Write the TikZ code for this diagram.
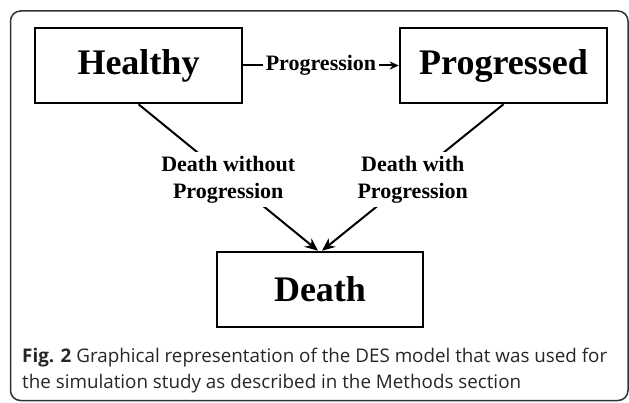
\documentclass[tikz,border=0pt]{standalone}
\usepackage{fontspec}
\setmainfont{Liberation Serif}
\newfontfamily\captionfont{Open Sans}
\usetikzlibrary{arrows.meta}
\tikzstyle{state} = [rectangle, draw=black, line width=2.5pt, minimum height=75pt, minimum width=207pt, text centered, font=\fontsize{36}{40}\selectfont\bfseries]
\tikzstyle{trans} = [fill=white, align=center, inner sep=4pt, font=\fontsize{22}{27}\selectfont\bfseries]
\tikzstyle{link} = [draw=black, line width=2pt]

\begin{document}
\begin{tikzpicture}[x=1pt, y=1pt]

            \useasboundingbox (0,0) rectangle (629,402);

            %% frame
            \draw [black!80, line width=1.5pt, rounded corners=10pt] (10.5,391) rectangle (628,1.5);

            %% states
            \node (healthy) [state] at (138.5,336.5) {Healthy};
            \node (progressed) [state] at (503.5,336.5) {Progressed};
            \node (death) [state, minimum width=206pt] at (320,112.5) {Death};

            %% transitions
            \draw [link, -{Stealth[length=9pt, width=8pt]}] (healthy.east) -- node [trans, inner sep=3pt] {Progression} (progressed.west);
            \draw [link, -{Stealth[length=13pt, width=11pt]}] (healthy.south) -- node [trans, yshift=-2pt] {Death without\\Progression} ([xshift=-2pt]death.north);
            \draw [link, -{Stealth[length=13pt, width=11pt]}] (progressed.south) -- node [trans, yshift=-2pt] {Death with\\Progression} ([xshift=2pt]death.north);

            %% caption
            \node (caption) [anchor=north west, inner sep=0pt, align=left, black!85, font=\captionfont\fontsize{18.8}{26}\selectfont] at (22,54.5) {\textbf{Fig. 2} Graphical representation of the DES model that was used for\\the simulation study as described in the Methods section};

        \end{tikzpicture}
\end{document}
